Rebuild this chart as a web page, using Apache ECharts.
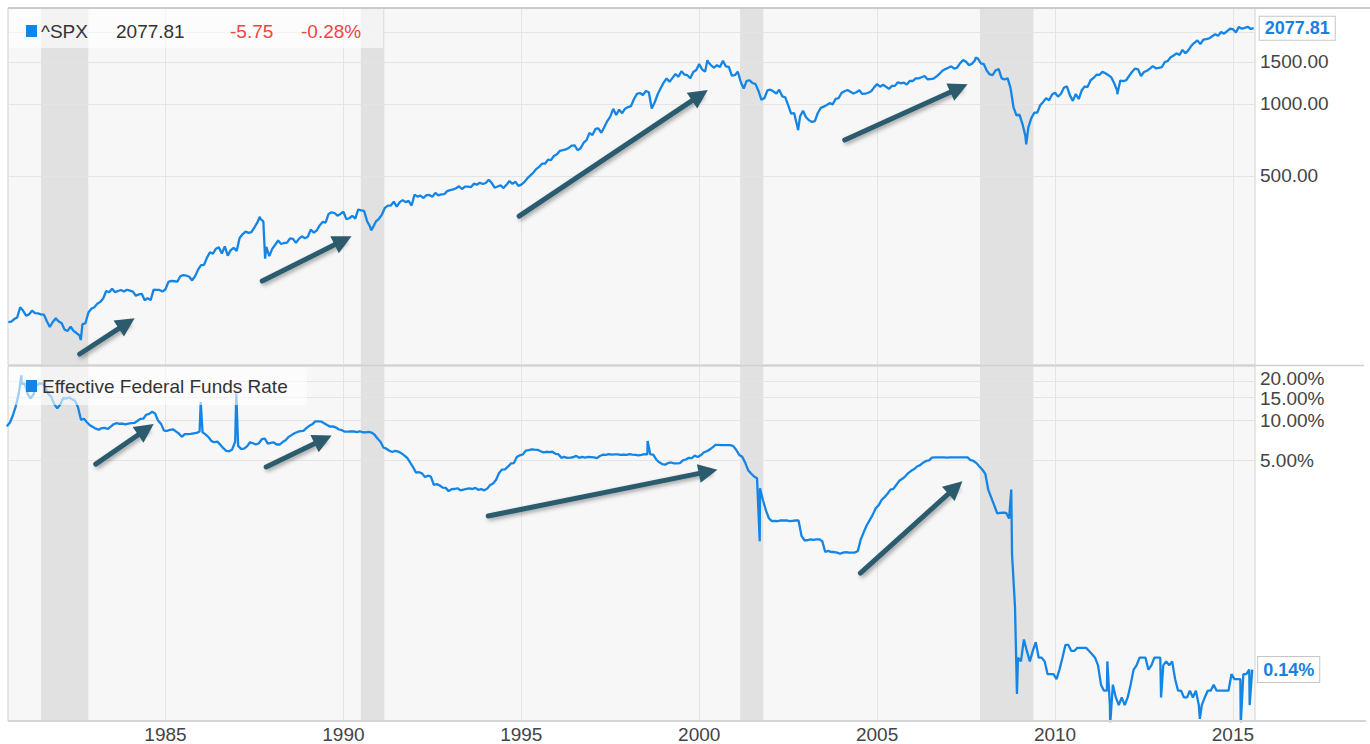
<!DOCTYPE html>
<html>
<head>
<meta charset="utf-8">
<script src="https://cdn.jsdelivr.net/npm/echarts@6/dist/echarts.min.js"></script>
<style>
html,body{margin:0;padding:0;background:#ffffff;}
#chart{width:1370px;height:744px;}
</style>
</head>
<body>
<div id="chart"></div>
<script>
// ---------------- DATA ----------------
// S&P 500 month-end closes, Jul 1980 ... Jun 2015, then latest close (Jul 2015)
const spxMonthEnd = [
  121.67,122.38,125.46,127.47,140.52,135.76,
  129.55,131.27,136.00,132.81,132.59,131.21,130.92,122.79,116.18,121.89,126.35,122.55,
  120.40,113.11,111.96,116.44,111.88,109.61,107.09,119.51,120.42,133.71,138.54,140.64,
  145.30,148.06,152.96,164.42,162.39,168.11,162.56,164.40,166.07,163.55,166.40,164.93,
  163.41,157.06,159.18,160.05,150.55,153.18,150.66,166.68,166.10,166.09,163.58,167.24,
  179.63,181.18,180.66,179.83,189.55,191.85,190.92,188.63,182.08,189.82,202.17,211.28,
  211.78,226.92,238.90,235.52,247.35,250.84,236.12,252.93,231.32,243.98,249.22,242.17,
  274.08,284.20,291.70,288.36,290.10,304.00,318.66,329.80,321.83,251.79,230.30,247.08,
  257.07,267.82,258.89,261.33,262.16,273.50,272.02,261.52,271.91,278.97,273.70,277.72,
  297.47,288.86,294.87,309.64,320.52,317.98,346.08,351.45,349.15,340.36,345.99,353.40,
  329.08,331.89,339.94,330.80,361.23,358.02,356.15,322.56,306.05,304.00,322.22,330.22,
  343.93,367.07,375.22,375.34,389.83,371.16,387.81,395.43,387.86,392.46,375.22,417.09,
  408.79,412.70,403.69,414.95,415.35,408.14,424.21,414.03,417.80,418.68,431.35,435.71,
  438.78,443.38,451.67,440.19,450.19,450.53,448.13,463.56,458.93,467.83,461.79,466.45,
  481.61,467.14,445.77,450.91,456.50,444.27,458.26,475.49,462.69,472.35,453.69,459.27,
  470.42,487.39,500.71,514.71,533.40,544.75,562.06,561.88,584.41,581.50,605.37,615.93,
  636.02,640.43,645.50,654.17,669.12,670.63,639.95,651.99,687.31,705.27,757.02,740.74,
  786.16,790.82,757.12,801.34,848.28,885.14,954.31,899.47,947.28,914.62,955.40,970.43,
  980.28,1049.34,1101.75,1111.75,1090.82,1133.84,1120.67,957.28,1017.01,1098.67,1163.63,1229.23,
  1279.64,1238.33,1286.37,1335.18,1301.84,1372.71,1328.72,1320.41,1282.71,1362.93,1388.91,1469.25,
  1394.46,1366.42,1498.58,1452.43,1420.60,1454.60,1430.83,1517.68,1436.51,1429.40,1314.95,1320.28,
  1366.01,1239.94,1160.33,1249.46,1255.82,1224.38,1211.23,1133.58,1040.94,1059.78,1139.45,1148.08,
  1130.20,1106.73,1147.39,1076.92,1067.14,989.82,911.62,916.07,815.28,885.76,936.31,879.82,
  855.70,841.15,848.18,916.92,963.59,974.50,990.31,1008.01,995.97,1050.71,1058.20,1111.92,
  1131.13,1144.94,1126.21,1107.30,1120.68,1140.84,1101.72,1104.24,1114.58,1130.20,1173.82,1211.92,
  1181.27,1203.60,1180.59,1156.85,1191.50,1191.33,1234.18,1220.33,1228.81,1207.01,1249.48,1248.29,
  1280.08,1280.66,1294.83,1310.61,1270.09,1270.20,1276.66,1303.82,1335.85,1377.94,1400.63,1418.30,
  1438.24,1406.82,1420.86,1482.37,1530.62,1503.35,1455.27,1473.99,1526.75,1549.38,1481.14,1468.36,
  1378.55,1330.63,1322.70,1385.59,1400.38,1280.00,1267.38,1282.83,1166.36,968.75,896.24,903.25,
  825.88,735.09,797.87,872.81,919.14,919.32,987.48,1020.62,1057.08,1036.19,1095.63,1115.10,
  1073.87,1104.49,1169.43,1186.69,1089.41,1030.71,1101.60,1049.33,1141.20,1183.26,1180.55,1257.64,
  1286.12,1327.22,1325.83,1363.61,1345.20,1320.64,1292.28,1218.89,1131.42,1253.30,1246.96,1257.60,
  1312.41,1365.68,1408.47,1397.91,1310.33,1362.16,1379.32,1406.58,1440.67,1412.16,1416.18,1426.19,
  1498.11,1514.68,1569.19,1597.57,1630.74,1606.28,1685.73,1632.97,1681.55,1756.54,1805.81,1848.36,
  1782.59,1859.45,1872.34,1883.95,1923.57,1960.23,1930.67,2003.37,1972.29,2018.05,2067.56,2058.90,
  1994.99,2104.50,2067.89,2085.51,2107.39,2063.11,2077.81
];
// notable intramonth closes [decimal year, close]
const spxDailyExtremes = [
  [1982.62,102.42],[1987.65,336.77],[1987.80,224.84],[1990.78,295.46],
  [2000.23,1527.46],[2002.78,776.76],[2007.77,1565.15],[2009.19,676.53],[2011.75,1099.23]
];
// Effective federal funds rate, monthly averages, Jul 1980 ... Jul 2015 (%)
const fedMonthlyAvg = [
  9.03,9.61,10.87,12.81,15.85,18.90,
  19.08,15.93,14.70,15.72,18.52,19.10,19.04,17.82,15.87,15.08,13.31,12.37,
  13.22,14.78,14.68,14.94,14.45,14.15,12.59,10.12,10.31,9.71,9.20,8.95,
  8.68,8.51,8.77,8.80,8.63,8.98,9.37,9.56,9.45,9.48,9.34,9.47,
  9.56,9.59,9.91,10.29,10.32,11.06,11.23,11.64,11.30,9.99,9.43,8.38,
  8.35,8.50,8.58,8.27,7.97,7.53,7.88,7.90,7.92,7.99,8.05,8.27,
  8.14,7.86,7.48,6.99,6.85,6.92,6.56,6.17,5.89,5.85,6.04,6.91,
  6.43,6.10,6.13,6.37,6.85,6.73,6.58,6.73,7.22,7.29,6.69,6.77,
  6.83,6.58,6.58,6.87,7.09,7.51,7.75,8.01,8.19,8.30,8.35,8.76,
  9.12,9.36,9.85,9.84,9.81,9.53,9.24,8.99,9.02,8.84,8.55,8.45,
  8.23,8.24,8.28,8.26,8.18,8.29,8.15,8.13,8.20,8.11,7.81,7.31,
  6.91,6.25,6.12,5.91,5.78,5.90,5.82,5.66,5.45,5.21,4.81,4.43,
  4.03,4.06,3.98,3.73,3.82,3.76,3.25,3.30,3.22,3.10,3.09,2.92,
  3.02,3.03,3.07,2.96,3.00,3.04,3.06,3.03,3.09,2.99,3.02,2.96,
  3.05,3.25,3.34,3.56,4.01,4.25,4.26,4.47,4.73,4.76,5.29,5.45,
  5.53,5.92,5.98,6.05,6.01,6.00,5.85,5.74,5.80,5.76,5.80,5.60,
  5.56,5.22,5.31,5.22,5.24,5.27,5.40,5.22,5.30,5.24,5.31,5.29,
  5.25,5.19,5.39,5.51,5.50,5.56,5.52,5.54,5.54,5.50,5.52,5.50,
  5.56,5.51,5.49,5.45,5.49,5.56,5.54,5.55,5.51,5.07,4.83,4.68,
  4.63,4.76,4.81,4.74,4.74,4.76,4.99,5.07,5.22,5.20,5.42,5.30,
  5.45,5.73,5.85,6.02,6.27,6.53,6.54,6.50,6.52,6.51,6.51,6.40,
  5.98,5.49,5.31,4.80,4.21,3.97,3.77,3.65,3.07,2.49,2.09,1.82,
  1.73,1.74,1.73,1.75,1.75,1.75,1.73,1.74,1.75,1.75,1.34,1.24,
  1.24,1.26,1.25,1.26,1.26,1.22,1.01,1.03,1.01,1.01,1.00,0.98,
  1.00,1.01,1.00,1.00,1.00,1.03,1.26,1.43,1.61,1.76,1.93,2.16,
  2.28,2.50,2.63,2.79,3.00,3.04,3.26,3.50,3.62,3.78,4.00,4.16,
  4.29,4.49,4.59,4.79,4.94,4.99,5.24,5.25,5.25,5.25,5.25,5.24,
  5.25,5.26,5.26,5.25,5.25,5.25,5.26,5.02,4.94,4.76,4.49,4.24,
  3.94,2.98,2.61,2.28,1.98,2.00,2.01,2.00,1.81,0.97,0.39,0.16,
  0.15,0.22,0.18,0.15,0.18,0.21,0.16,0.16,0.15,0.12,0.12,0.12,
  0.11,0.13,0.16,0.20,0.20,0.18,0.18,0.19,0.19,0.19,0.19,0.18,
  0.17,0.16,0.14,0.10,0.09,0.09,0.07,0.10,0.08,0.07,0.08,0.07,
  0.08,0.10,0.13,0.14,0.16,0.16,0.16,0.13,0.14,0.16,0.16,0.16,
  0.14,0.15,0.14,0.15,0.11,0.09,0.09,0.08,0.08,0.09,0.08,0.09,
  0.07,0.07,0.08,0.09,0.09,0.10,0.09,0.09,0.09,0.09,0.09,0.12,
  0.11,0.11,0.11,0.12,0.12,0.13,0.13
];
// daily spikes visible in the reference [decimal year, rate %]
const fedDailySpikes = [
  [1980.95,22.0],[1985.99,13.8],[1986.99,16.0],[1998.55,7.0],[2001.70,1.22],
  [2008.77,3.0],[2008.93,0.085],[2011.47,0.15],[2011.55,0.05],[2012.98,0.08],
  [2014.07,0.055],[2015.22,0.05],[2015.47,0.07]
];
const recessions = [[1981.50,1982.83],[1990.49,1991.15],[2001.15,2001.80],[2007.89,2009.39]];
const yearTicks = [1985,1990,1995,2000,2005,2010,2015];
const spxGridValues = [500,1000,1500,2000];
const spxLabelValues = [500,1000,1500];
const fedGridValues = [5,10,15,20];
// trend arrows [[tailYear, tailValue],[headYear, headValue]]
const spxArrows = [
  [[1982.59,89.5],[1983.91,120.3]],
  [[1987.72,181],[1989.99,267.5]],
  [[1994.94,339],[2000.02,1087]],
  [[2004.09,706],[2007.30,1164]]
];
const fedArrows = [
  [[1983.04,4.68],[1984.45,8.55]],
  [[1987.83,4.45],[1989.43,7.18]],
  [[1994.07,1.89],[2000.25,4.10]],
  [[2004.53,0.700],[2007.20,3.11]]
];
const spxName = '^SPX';
const spxLast = '2077.81';
const spxChange = '-5.75';
const spxChangePct = '-0.28%';
const fedName = 'Effective Federal Funds Rate';
const fedLastLabel = '0.14%';

// ---------------- BUILD ----------------
const FONT = '"Liberation Sans", Arial, Helvetica, sans-serif';
const BLUE = '#1385e6';
const ARROW = '#2c5b6e';
const monthEndX = i => 1980 + (7 + i) / 12;
const monthMidX = i => 1980 + (6.5 + i) / 12;
const byX = (a, b) => a[0] - b[0];
const spxData = spxMonthEnd.map((v, i) => [monthEndX(i), v]).concat(spxDailyExtremes).sort(byX);
const fedData = fedMonthlyAvg.map((v, i) => [monthMidX(i), v]).concat(fedDailySpikes).sort(byX);

const xMin = 1980.574, xMax = 2015.62;

const bandArea = {
  silent: true, z: 1,
  itemStyle: {color: '#e1e1e1'},
  data: recessions.map(r => [{xAxis: r[0]}, {xAxis: r[1]}])
};
const gridLineStyle = {color: '#e4e4e4', width: 1, type: 'solid'};
const labelStyle = {color: '#444', fontSize: 19, lineHeight: 14, fontFamily: FONT};
// small vertical nudges for the two crowded top labels of the rate axis
const fedLabelNudge = {20: -2, 15: 1};

function arrowMarkLine(list) {
  return {
    silent: true, z: 4,
    symbol: ['none', 'triangle'], symbolSize: 19,
    lineStyle: {color: ARROW, width: 5, type: 'solid', cap: 'round', opacity: 1,
      shadowBlur: 4, shadowColor: 'rgba(0,0,0,0.35)', shadowOffsetX: 2, shadowOffsetY: 2},
    itemStyle: {color: ARROW},
    label: {show: false},
    emphasis: {disabled: true},
    data: list.map(a => [{coord: a[0]}, {coord: a[1]}])
  };
}

const option = {
  animation: false,
  textStyle: {fontFamily: FONT},
  grid: [
    {left: 8, top: 8, width: 1247, height: 357, show: true, backgroundColor: '#f7f7f7',
      borderColor: '#d2d2d2', borderWidth: 1, outerBoundsMode: 'none'},
    {left: 8, top: 366, width: 1247, height: 355, show: true, backgroundColor: '#f7f7f7',
      borderColor: '#d2d2d2', borderWidth: 1, outerBoundsMode: 'none'}
  ],
  xAxis: [
    {type: 'value', gridIndex: 0, min: xMin, max: xMax, show: false},
    {type: 'value', gridIndex: 1, min: xMin, max: xMax, show: false}
  ],
  yAxis: [
    {type: 'log', logBase: 10, gridIndex: 0, min: 80.5, max: 2526, show: false},
    {type: 'log', logBase: 10, gridIndex: 1, min: 0.05306, max: 25.87, show: false}
  ],
  series: [
    { // top decorations
      type: 'line', xAxisIndex: 0, yAxisIndex: 0, data: [[1990, 500]], showSymbol: false,
      lineStyle: {opacity: 0}, z: 1, clip: false, silent: true,
      markArea: bandArea,
      markLine: {
        silent: true, z: 2, symbol: 'none', lineStyle: gridLineStyle,
        label: {show: false},
        data: yearTicks.map(y => ({xAxis: y})).concat(spxGridValues.map(v => ({
          yAxis: v,
          label: {show: spxLabelValues.indexOf(v) >= 0, position: 'end', distance: 5,
            formatter: v.toFixed(2), ...labelStyle}
        })))
      }
    },
    { // bottom decorations
      type: 'line', xAxisIndex: 1, yAxisIndex: 1, data: [[1990, 5]], showSymbol: false,
      lineStyle: {opacity: 0}, z: 1, clip: false, silent: true,
      markArea: bandArea,
      markLine: {
        silent: true, z: 2, symbol: 'none', lineStyle: gridLineStyle,
        label: {show: false},
        data: yearTicks.map(y => ({
          xAxis: y,
          label: {show: true, position: 'start', distance: 6, formatter: String(y), ...labelStyle}
        })).concat(fedGridValues.map(v => ({
          yAxis: v,
          label: {show: true, position: 'end', distance: 5, formatter: v.toFixed(2) + '%',
            offset: [0, fedLabelNudge[v] || 0], ...labelStyle}
        })))
      }
    },
    {
      name: spxName, type: 'line', xAxisIndex: 0, yAxisIndex: 0, data: spxData,
      showSymbol: false, z: 3, silent: true,
      lineStyle: {color: BLUE, width: 2.3}, itemStyle: {color: BLUE},
      endLabel: {show: true, formatter: () => spxLast, distance: 6, color: '#1a80e0',
        fontWeight: 'bold', fontSize: 18, fontFamily: FONT, backgroundColor: '#fff',
        borderColor: '#c6c6c6', borderWidth: 1, padding: [3, 5, 2, 5]},
      markLine: arrowMarkLine(spxArrows)
    },
    {
      name: fedName, type: 'line', xAxisIndex: 1, yAxisIndex: 1, data: fedData,
      showSymbol: false, z: 3, silent: true,
      lineStyle: {color: BLUE, width: 2.3}, itemStyle: {color: BLUE},
      endLabel: {show: true, formatter: () => fedLastLabel, distance: 6, color: '#1a80e0',
        fontWeight: 'bold', fontSize: 18, fontFamily: FONT, backgroundColor: '#fff',
        borderColor: '#c6c6c6', borderWidth: 1, padding: [4, 5, 3, 5]},
      markLine: arrowMarkLine(fedArrows)
    }
  ],
  graphic: [
    {type: 'line', z: 60, silent: true, shape: {x1: 8, y1: 8, x2: 1370, y2: 8}, style: {stroke: '#cacaca', lineWidth: 2}},
    {type: 'line', z: 60, silent: true, shape: {x1: 8, y1: 365.5, x2: 1364, y2: 365.5}, style: {stroke: '#d0d0d0', lineWidth: 1.5}},
    {type: 'line', z: 60, silent: true, shape: {x1: 8, y1: 721, x2: 1366, y2: 721}, style: {stroke: '#d4d4d4', lineWidth: 2}},
    {type: 'rect', z: 50, silent: true, shape: {x: 9, y: 9, width: 374, height: 39}, style: {fill: 'rgba(255,255,255,0.6)'}},
    {type: 'rect', z: 51, silent: true, shape: {x: 26, y: 25, width: 11, height: 12}, style: {fill: BLUE}},
    {type: 'text', z: 51, silent: true, x: 41, y: 31, style: {text: spxName, fill: '#333', fontSize: 19, fontFamily: FONT, verticalAlign: 'middle'}},
    {type: 'text', z: 51, silent: true, x: 116, y: 31, style: {text: spxLast, fill: '#333', fontSize: 19, fontFamily: FONT, verticalAlign: 'middle'}},
    {type: 'text', z: 51, silent: true, x: 230, y: 31, style: {text: spxChange, fill: '#f04444', fontSize: 19, fontFamily: FONT, verticalAlign: 'middle'}},
    {type: 'text', z: 51, silent: true, x: 301, y: 31, style: {text: spxChangePct, fill: '#f04444', fontSize: 19, fontFamily: FONT, verticalAlign: 'middle'}},
    {type: 'rect', z: 50, silent: true, shape: {x: 9, y: 367, width: 298, height: 38}, style: {fill: 'rgba(255,255,255,0.6)'}},
    {type: 'rect', z: 51, silent: true, shape: {x: 26, y: 380, width: 11, height: 12}, style: {fill: BLUE}},
    {type: 'text', z: 51, silent: true, x: 42, y: 386, style: {text: fedName, fill: '#333', fontSize: 19, fontFamily: FONT, verticalAlign: 'middle'}}
  ]
};

const chart = echarts.init(document.getElementById('chart'), null, {renderer: 'svg', width: 1370, height: 744});
chart.setOption(option);
</script>
</body>
</html>
